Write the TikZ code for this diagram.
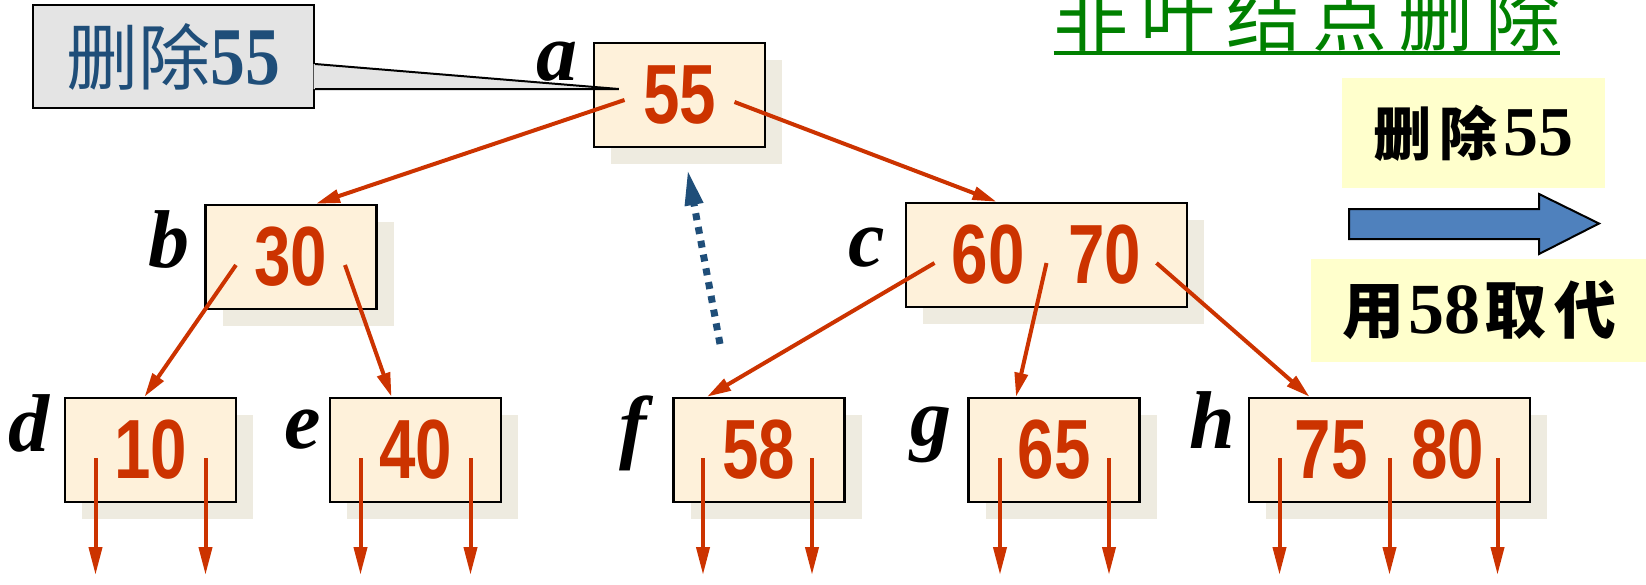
\documentclass[tikz,border=0pt]{standalone}
\usepackage{fontspec}
\usetikzlibrary{arrows.meta,positioning,calc,shadows}
\setmainfont{Liberation Serif}
\newfontfamily\keyfont[FakeStretch=0.78]{Liberation Sans}
\newfontfamily\cjkfont{Noto Sans CJK SC}
\newfontfamily\titlefont[LetterSpace=15]{Noto Sans CJK SC}
\newfontfamily\numserif[FakeStretch=0.85]{Liberation Serif}
\definecolor{KeyRed}{HTML}{CC3300}
\definecolor{BoxFill}{HTML}{FEF1DA}
\definecolor{BoxShadow}{HTML}{EEEBE0}
\definecolor{NoteBlue}{HTML}{1F4E79}
\definecolor{NoteGray}{HTML}{E4E4E4}
\definecolor{TitleGreen}{HTML}{008000}
\definecolor{HintYellow}{HTML}{FFFFCC}
\definecolor{ArrowBlue}{HTML}{4F81BD}

\tikzset{
  keybox/.style={draw=black,line width=2.5pt,fill=BoxFill,minimum height=104pt,inner sep=0pt,
    font=\keyfont\bfseries\fontsize{84}{84}\selectfont,text=KeyRed,
    drop shadow={shadow xshift=17pt,shadow yshift=-17pt,opacity=1,fill=BoxShadow}},
  onekey/.style={keybox,minimum width=171pt},
  twokey/.style={keybox,minimum width=281pt},
  tag/.style={font=\bfseries\itshape\fontsize{82}{82}\selectfont,inner sep=0pt,anchor=base east},
  link/.style={KeyRed,line width=4pt,-{Triangle[length=24pt,width=13pt]}},
  nil/.style={KeyRed,line width=4pt,-{Triangle[length=28pt,width=13pt]}},
  moveup/.style={NoteBlue,line width=7pt,dash pattern=on 7pt off 7pt,-{Triangle[length=36pt,width=17pt]}},
  note/.style={draw=black,line width=2pt,fill=NoteGray,inner sep=0pt,text=NoteBlue},
  hint/.style={fill=HintYellow,inner sep=0pt}
}

\begin{document}
\begin{tikzpicture}[x=1pt,y=-1pt]
  \useasboundingbox (0,0) rectangle (1646,584);

  % tree
  \node[onekey] (a) at (679.5,95) {55};
  \node[onekey] (b) at (291,257) {30};
  \node[twokey] (c) at (1046.5,255) {60\hspace{44pt}70};
  \node[onekey] (d) at (150.5,450) {10};
  \node[onekey] (e) at (415.5,450) {40};
  \node[onekey] (f) at (759,450) {58};
  \node[onekey] (g) at (1054,450) {65};
  \node[twokey] (h) at (1389.5,450) {75\hspace{44pt}80};

  \foreach \n/\dx/\dy in {a/-15/39,b/-15/64,c/-20/65,d/-14/55,e/-8/52,f/-25/57,g/-16/49,h/-12/52}
    \node[tag] (tag-\n) at ($(\n.north west)+(\dx,\dy)$) {\n};

  % pointer slots
  \coordinate (a0) at ($(a.center)+(-55,5)$);
  \coordinate (a1) at ($(a.center)+(55,7)$);
  \coordinate (b0) at ($(b.center)+(-55,8)$);
  \coordinate (b1) at ($(b.center)+(54,8)$);
  \coordinate (c0) at ($(c.center)+(-112,8)$);
  \coordinate (c1) at ($(c.center)+(0,8)$);
  \coordinate (c2) at ($(c.center)+(110,8)$);

  \draw[link] (a0) -- ($(b.north)+(25,0)$);
  \draw[link] (a1) -- ($(c.north)+(-50,0)$);
  \draw[link] (b0) -- ($(d.north)+(-6,0)$);
  \draw[link] (b1) -- ($(e.north)+(-24,0)$);
  \draw[link] (c0) -- ($(f.north)+(-52,0)$);
  \draw[link] (c1) -- ($(g.north)+(-38,0)$);
  \draw[link] (c2) -- ($(h.north)+(-80,0)$);

  \foreach \n/\dx in {d/-55,d/55,e/-55,e/55,f/-56,f/53,g/-54,g/55,h/-110,h/0,h/108}
    \draw[nil] ($(\n.center)+(\dx,8)$) -- ++(0,117);

  % 58 moves up
  \coordinate (from58) at (720,344);
  \draw[moveup] (from58) -- ($(a.south)+(8,21)$);

  % callout
  \node[note,minimum width=281pt,minimum height=103pt] (del) at (173.5,56.5)
    {{\cjkfont\fontsize{72}{72}\selectfont 删除}{\numserif\bfseries\fontsize{82}{82}\selectfont 55}};
  \coordinate (tip) at ($(a.west)+(26,-6)$);
  \fill[NoteGray] ($(del.north east)+(-1.5,60)$) -- (tip) -- ($(del.north east)+(-1.5,85)$) -- cycle;
  \draw[line width=2pt] ($(del.north east)+(0,60)$) -- (tip) -- ($(del.north east)+(0,85)$);

  % title
  \node[font=\titlefont\fontsize{75}{75}\selectfont,text=TitleGreen,anchor=base,inner sep=0pt] (title) at (1307,45) {非叶结点删除};
  \draw[TitleGreen,line width=3.5pt] ($(title.base west)+(0,8)$) -- ($(title.base east)+(0,8)$);

  % right side
  \node[hint,minimum width=263pt,minimum height=110pt] (step1) at (1473.5,133)
    {{\cjkfont\bfseries\fontsize{58}{58}\selectfont 删\hspace{8pt}除\hspace{6pt}}{\bfseries\fontsize{70}{70}\selectfont 55}};
  \draw[fill=ArrowBlue,line width=2pt] (1349,209) -- (1539,209) -- (1539,194) -- (1599,223.5)
    -- (1539,254) -- (1539,239) -- (1349,239) -- cycle;
  \node[hint,minimum width=336pt,minimum height=103pt] (step2) at (1479,310.5)
    {{\cjkfont\bfseries\fontsize{62}{62}\selectfont 用\hspace{4pt}}{\bfseries\fontsize{72}{72}\selectfont 58}{\cjkfont\bfseries\fontsize{62}{62}\selectfont \hspace{4pt}取\hspace{8pt}代}};
\end{tikzpicture}
\end{document}
